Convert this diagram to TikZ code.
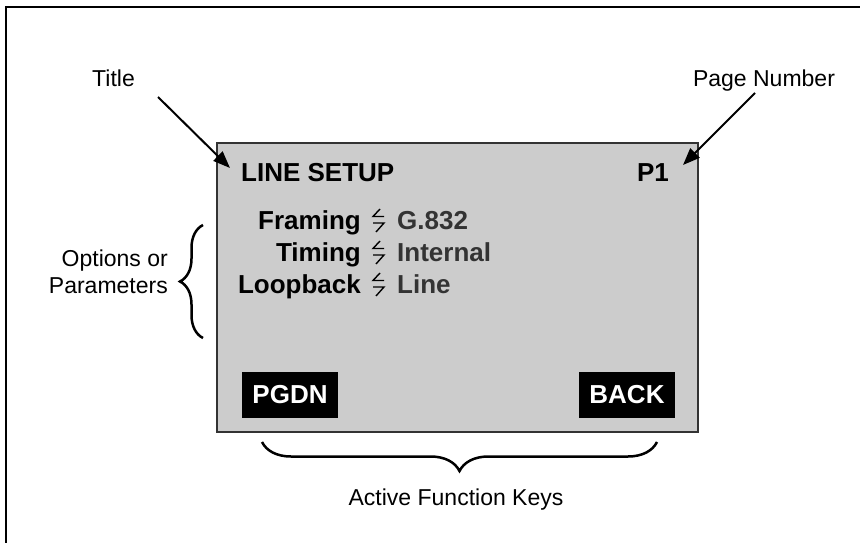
\documentclass[tikz,border=0pt]{standalone}
\usepackage{fontspec}
\setmainfont{Liberation Sans}
\usetikzlibrary{arrows.meta}
\usetikzlibrary{positioning}
\usetikzlibrary{decorations.pathreplacing}

\tikzset{
  sepmark/.pic={
    \draw[line width=1.4pt] (7,-7.5) -- (0,0) -- (11,0)
                            (0,6.5) -- (11,6.5) -- (3,15.5);
  }
}

\begin{document}
\begin{tikzpicture}[x=1pt, y=-1pt]
    \tikzstyle{callout}=[font=\fontsize{23}{27}\selectfont, inner sep=0pt]
    \tikzstyle{scrtext}=[font=\fontsize{26}{30}\selectfont\bfseries, inner sep=0pt]
    \tikzstyle{scrvalue}=[scrtext, text=black!80, anchor=base west]
    \tikzstyle{softkey}=[fill=black, text=white, font=\fontsize{26}{30}\selectfont\bfseries,
                         minimum width=96pt, minimum height=46pt, inner sep=0pt]
    \tikzstyle{pointer}=[-{Triangle[length=17pt,width=13pt]}, line width=2pt]
    \tikzstyle{curly}=[decorate, line width=2.5pt]

    \useasboundingbox (0,0) rectangle (860,543);
    % outer frame
    \draw[line width=2pt] (6,570) -- (6,7) -- (890,7);

    % screen
    \node (screen) [draw=black!80, line width=2pt, fill=black!20, minimum width=481pt,
                    minimum height=289pt, inner sep=0pt] at (457.5,287.5) {};
    \node (heading) [scrtext, anchor=base west] at (241,181) {LINE SETUP};
    \node (pagenr) [scrtext, anchor=base east] at (669,181) {P1};

    \node (framing) [scrtext, anchor=base east] at (361,229) {Framing};
    \node (timing) [scrtext, anchor=base east] at (361,261) {Timing};
    \node (loopback) [scrtext, anchor=base east] at (361,293) {Loopback};
    \pic at (373,216.5) {sepmark};
    \pic at (373,248.5) {sepmark};
    \pic at (373,280.5) {sepmark};
    \node (g832) [scrvalue] at (397,229) {G.832};
    \node (internal) [scrvalue] at (397,261) {Internal};
    \node (line) [scrvalue] at (397,293) {Line};

    \node (pgdn) [softkey] at (290,395) {PGDN};
    \node (back) [softkey] at (627,395) {BACK};

    % callouts
    \node (title) [callout, anchor=base] at (113.5,87) {Title};
    \node (pagenum) [callout, anchor=base] at (764,87) {Page Number};
    \node (options) [callout, anchor=east, align=right] at (168,272) {Options or\\Parameters};
    \node (keys) [callout, anchor=base] at (456,505) {Active Function Keys};

    \coordinate (titlefrom) at (158,97);
    \coordinate (titletip) at (230,168);
    \coordinate (pagefrom) at (755,93);
    \coordinate (pagetip) at (683,165);
    \draw[pointer] (titlefrom) -- (titletip);
    \draw[pointer] (pagefrom) -- (pagetip);

    \coordinate (optlow) at (203,338);
    \coordinate (opthigh) at (203,225);
    \coordinate (keyright) at (657,442);
    \coordinate (keyleft) at (262,442);
    \draw[curly, decoration={brace, amplitude=23pt}] (optlow) -- (opthigh);
    \draw[curly, decoration={brace, amplitude=29pt}] (keyright) -- (keyleft);
\end{tikzpicture}
\end{document}
